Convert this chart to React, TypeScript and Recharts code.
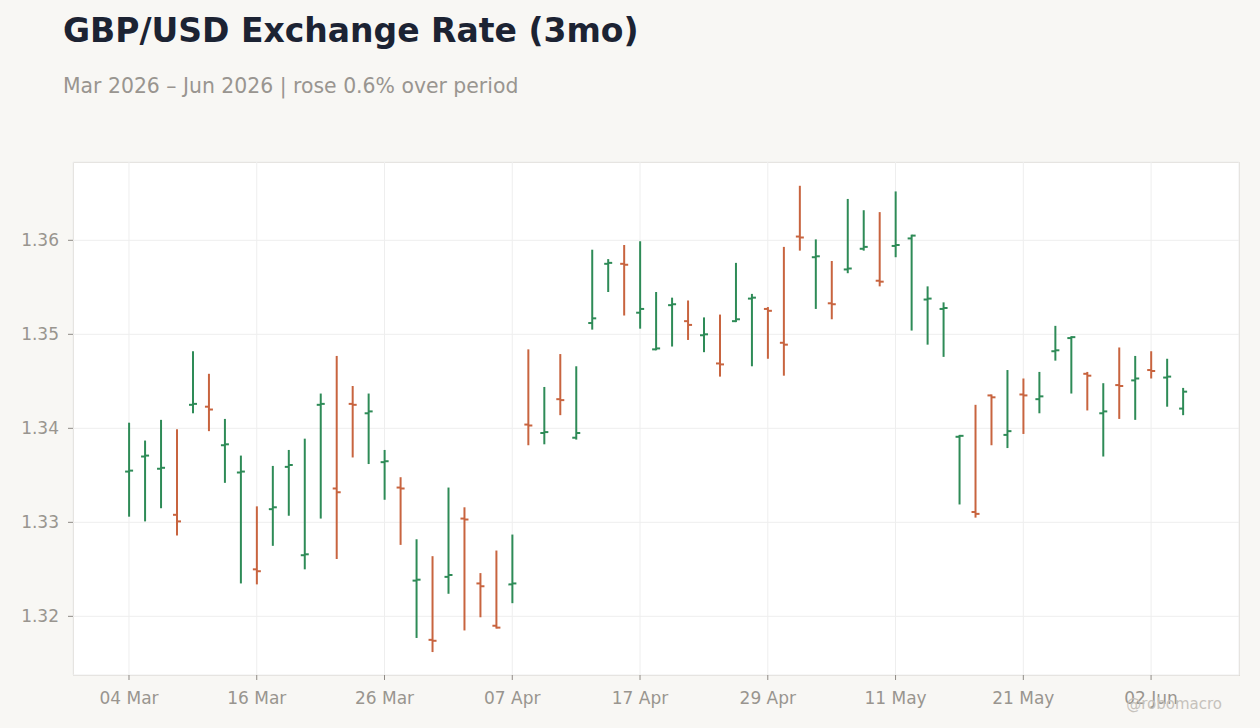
import { ComposedChart, Bar, XAxis, YAxis, CartesianGrid } from "recharts";

const dates = [
    "04 Mar", "05 Mar", "06 Mar", "09 Mar", "10 Mar", "11 Mar", "12 Mar", "13 Mar",
    "16 Mar", "17 Mar", "18 Mar", "19 Mar", "20 Mar", "23 Mar", "24 Mar", "25 Mar",
    "26 Mar", "27 Mar", "30 Mar", "31 Mar", "01 Apr", "02 Apr", "03 Apr", "06 Apr",
    "07 Apr", "08 Apr", "09 Apr", "10 Apr", "13 Apr", "14 Apr", "15 Apr", "16 Apr",
    "17 Apr", "20 Apr", "21 Apr", "22 Apr", "23 Apr", "24 Apr", "27 Apr", "28 Apr",
    "29 Apr", "30 Apr", "01 May", "04 May", "05 May", "06 May", "07 May", "08 May",
    "11 May", "12 May", "13 May", "14 May", "15 May", "18 May", "19 May", "20 May",
    "21 May", "22 May", "25 May", "26 May", "27 May", "28 May", "29 May", "01 Jun",
    "02 Jun", "03 Jun", "04 Jun",
];

const open = [
    1.3354, 1.3370, 1.3357, 1.3308, 1.3425, 1.3423, 1.3382, 1.3353,
    1.3250, 1.3314, 1.3359, 1.3265, 1.3425, 1.3336, 1.3426, 1.3416,
    1.3364, 1.3337, 1.3238, 1.3175, 1.3242, 1.3304, 1.3235, 1.3190,
    1.3234, 1.3404, 1.3395, 1.3431, 1.3390, 1.3512, 1.3575, 1.3575,
    1.3523, 1.3484, 1.3531, 1.3514, 1.3499, 1.3469, 1.3514, 1.3538,
    1.3527, 1.3491, 1.3604, 1.3582, 1.3533, 1.3569, 1.3591, 1.3557,
    1.3594, 1.3602, 1.3537, 1.3527, 1.3391, 1.3311, 1.3435, 1.3393,
    1.3436, 1.3431, 1.3482, 1.3496, 1.3458, 1.3416, 1.3446, 1.3451,
    1.3462, 1.3454, 1.3421,
];

const high = [
    1.3406, 1.3387, 1.3409, 1.3399, 1.3482, 1.3458, 1.3410, 1.3371,
    1.3317, 1.3360, 1.3377, 1.3389, 1.3437, 1.3477, 1.3445, 1.3437,
    1.3377, 1.3348, 1.3282, 1.3264, 1.3337, 1.3316, 1.3246, 1.3270,
    1.3287, 1.3484, 1.3444, 1.3479, 1.3466, 1.3590, 1.3580, 1.3595,
    1.3599, 1.3545, 1.3539, 1.3536, 1.3518, 1.3521, 1.3576, 1.3543,
    1.3529, 1.3593, 1.3658, 1.3601, 1.3578, 1.3644, 1.3632, 1.3630,
    1.3652, 1.3606, 1.3551, 1.3534, 1.3393, 1.3425, 1.3436, 1.3462,
    1.3453, 1.3460, 1.3509, 1.3498, 1.3460, 1.3448, 1.3486, 1.3477,
    1.3482, 1.3474, 1.3443,
];

const low = [
    1.3306, 1.3301, 1.3315, 1.3286, 1.3416, 1.3397, 1.3342, 1.3235,
    1.3234, 1.3275, 1.3307, 1.3250, 1.3304, 1.3261, 1.3369, 1.3362,
    1.3324, 1.3276, 1.3177, 1.3162, 1.3224, 1.3185, 1.3199, 1.3187,
    1.3214, 1.3382, 1.3383, 1.3414, 1.3388, 1.3505, 1.3545, 1.3520,
    1.3506, 1.3483, 1.3487, 1.3494, 1.3481, 1.3455, 1.3513, 1.3466,
    1.3474, 1.3456, 1.3589, 1.3527, 1.3516, 1.3565, 1.3589, 1.3551,
    1.3582, 1.3504, 1.3489, 1.3476, 1.3319, 1.3305, 1.3382, 1.3379,
    1.3394, 1.3416, 1.3472, 1.3437, 1.3419, 1.3370, 1.3410, 1.3409,
    1.3453, 1.3423, 1.3414,
];

const close = [
    1.3355, 1.3371, 1.3358, 1.3301, 1.3426, 1.3420, 1.3383, 1.3354,
    1.3248, 1.3316, 1.3361, 1.3266, 1.3426, 1.3332, 1.3425, 1.3418,
    1.3365, 1.3336, 1.3239, 1.3174, 1.3244, 1.3303, 1.3232, 1.3188,
    1.3235, 1.3403, 1.3396, 1.3430, 1.3395, 1.3517, 1.3576, 1.3574,
    1.3527, 1.3485, 1.3532, 1.3510, 1.3500, 1.3468, 1.3516, 1.3539,
    1.3525, 1.3489, 1.3603, 1.3583, 1.3532, 1.3570, 1.3593, 1.3556,
    1.3595, 1.3605, 1.3538, 1.3528, 1.3392, 1.3309, 1.3433, 1.3397,
    1.3435, 1.3434, 1.3483, 1.3497, 1.3456, 1.3418, 1.3445, 1.3453,
    1.3461, 1.3455, 1.3439,
];

const yTicks = [1.32, 1.33, 1.34, 1.35, 1.36];

const UP = "#2e8b57";
const DOWN = "#c8643f";

const data = dates.map((d, i) => ({
    date: d,
    open: open[i],
    high: high[i],
    low: low[i],
    close: close[i],
    range: [low[i], high[i]],
}));

// draws one OHLC bar inside the band recharts gives the range bar
function OhlcShape(props: any) {
    const { x, y, width, height, payload } = props;
    if (payload == null) return null;
    const cx = x + width / 2;
    const top = Math.min(y, y + height);
    const h = Math.abs(height);
    const span = payload.high - payload.low || 1;
    const yOf = (v: number) => top + ((payload.high - v) / span) * h;
    const color = payload.close >= payload.open ? UP : DOWN;
    return (
        <g>
            <line x1={cx} x2={cx} y1={top} y2={top + h} stroke={color} strokeWidth={2} />
            <line x1={cx - 4} x2={cx} y1={yOf(payload.open)} y2={yOf(payload.open)} stroke={color} strokeWidth={2} />
            <line x1={cx} x2={cx + 4} y1={yOf(payload.close)} y2={yOf(payload.close)} stroke={color} strokeWidth={2} />
        </g>
    );
}

export default function App() {
    return (
        <div
            style={{
                position: "absolute",
                left: 0,
                top: 0,
                width: 1260,
                height: 728,
                background: "#f8f7f4",
                fontFamily: "'DejaVu Sans', sans-serif",
                overflow: "hidden",
            }}
        >
            <div
                style={{
                    position: "absolute",
                    left: 63,
                    top: 14,
                    fontSize: 33,
                    lineHeight: 1,
                    fontWeight: 700,
                    color: "#1c2333",
                    whiteSpace: "nowrap",
                }}
            >
                GBP/USD Exchange Rate (3mo)
            </div>
            <div
                style={{
                    position: "absolute",
                    left: 63,
                    top: 75.5,
                    fontSize: 20.4,
                    lineHeight: 1,
                    color: "#999590",
                    whiteSpace: "nowrap",
                }}
            >
                Mar 2026 – Jun 2026 | rose 0.6% over period
            </div>

            <div
                style={{
                    position: "absolute",
                    left: 73,
                    top: 162,
                    width: 1167,
                    height: 514,
                    boxSizing: "border-box",
                    border: "1px solid #dedad4",
                    background: "#ffffff",
                }}
            />

            <div style={{ position: "absolute", left: 0, top: 0 }}>
                <ComposedChart
                    width={1260}
                    height={728}
                    data={data}
                    margin={{ top: 162, right: 21, bottom: 23, left: 0 }}
                >
                    <CartesianGrid stroke="#eeeeee" strokeWidth={1} />
                    <XAxis
                        dataKey="date"
                        interval={7}
                        padding={{ left: 48, right: 48 }}
                        height={30}
                        axisLine={false}
                        tickLine={{ stroke: "#8f8b86" }}
                        tickSize={5}
                        tickMargin={12}
                        tick={{ fill: "#99958f", fontSize: 17 }}
                    />
                    <YAxis
                        type="number"
                        domain={[1.31376, 1.36833]}
                        allowDataOverflow
                        ticks={yTicks}
                        tickFormatter={(v: number) => v.toFixed(2)}
                        width={73}
                        axisLine={false}
                        tickLine={{ stroke: "#8f8b86" }}
                        tickSize={5}
                        tickMargin={9}
                        tick={{ fill: "#99958f", fontSize: 17 }}
                    />
                    <Bar
                        dataKey="range"
                        shape={OhlcShape}
                        isAnimationActive={false}
                    />
                </ComposedChart>
            </div>

            <div
                style={{
                    position: "absolute",
                    right: 38,
                    top: 697,
                    fontSize: 15,
                    lineHeight: 1,
                    color: "#c6c2bc",
                    whiteSpace: "nowrap",
                }}
            >
                @robomacro
            </div>
        </div>
    );
}
